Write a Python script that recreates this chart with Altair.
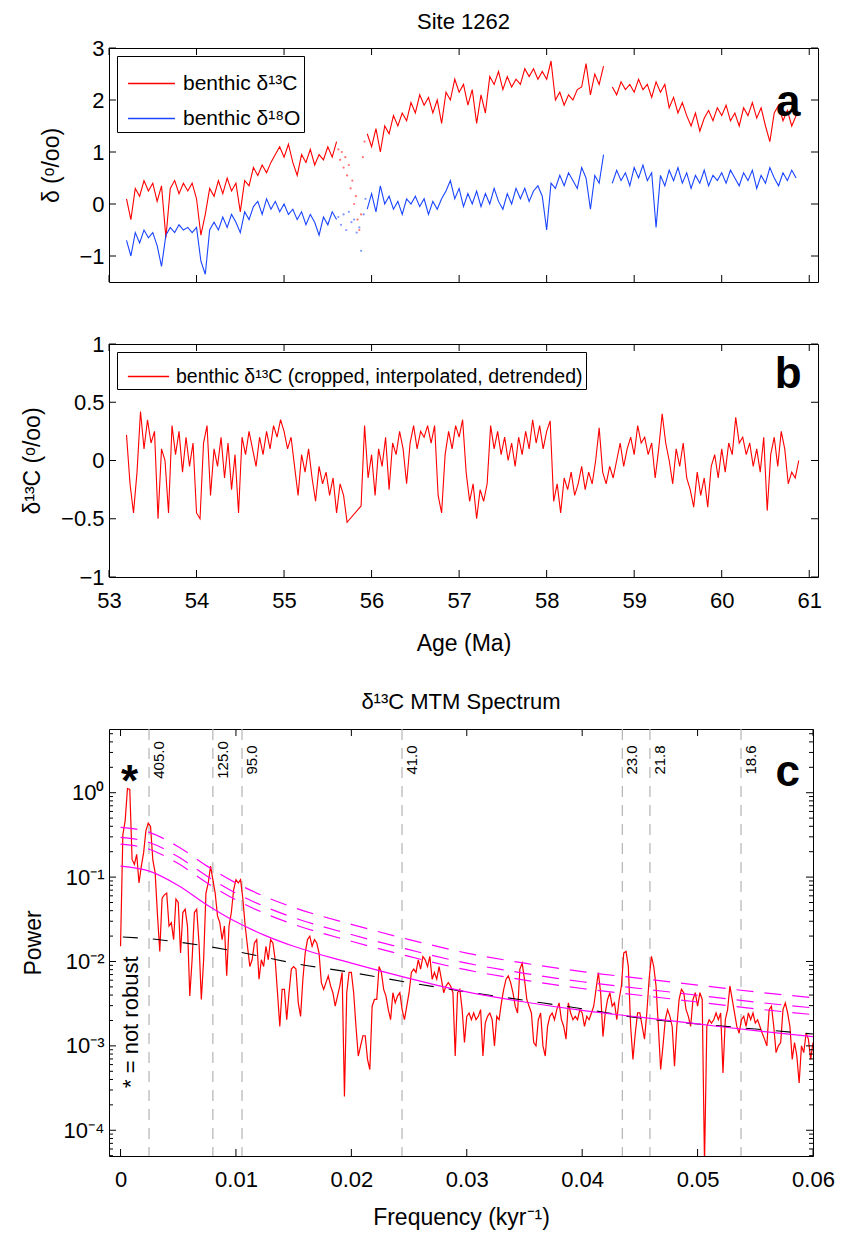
import altair as alt
import numpy as np
import pandas as pd

FONT = "Liberation Sans"
RED = "#ff0000"
BLUE = "#1a45ff"
MAG = "#ff00ff"

# ---------------- panel a : raw benthic isotopes ----------------
A_START, A_STEP = 53.20, 0.05
d13c_a = [
    0.1, -0.3, 0.3, 0.15, 0.45, 0.25, 0.4, 0.05, 0.35, -0.65,
    0.3, 0.45, 0.2, 0.4, 0.25, 0.4, 0.1, -0.6, -0.2, 0.3,
    0.15, 0.45, 0.2, 0.5, 0.25, 0.4, -0.15, 0.45, 0.35, 0.7,
    0.55, 0.75, 0.6, 0.8, 0.95, 1.1, 0.9, 1.15, 0.8, 0.55,
    0.95, 0.8, 1.05, 0.75, 0.95, 0.85, 1.1, 0.9, 1.2, None,
    None, None, None, None, None, 1.35, 1.1, 1.45, 1.0, 1.5,
    1.35, 1.7, 1.5, 1.75, 1.6, 1.95, 1.75, 2.1, 1.9, 2.05,
    1.75, 2.0, 1.55, 2.15, 2.0, 2.4, 2.15, 2.3, 1.9, 2.2,
    1.55, 2.1, 1.75, 2.45, 2.3, 2.55, 2.2, 2.45, 2.25, 2.4,
    2.3, 2.6, 2.45, 2.6, 2.4, 2.55, 2.4, 2.75, 2.0, 2.15,
    1.9, 2.1, 2.0, 2.2, 2.25, 2.7, 2.1, 2.5, 2.3, 2.65,
    None, 2.25, 2.1, 2.35, 2.2, 2.3, 2.15, 2.4, 2.2, 2.3,
    2.05, 2.35, 2.15, 2.3, 1.85, 2.05, 1.75, 1.95, 1.7, 1.5,
    1.75, 1.4, 1.65, 1.8, 1.6, 1.85, 1.7, 1.9, 1.6, 1.75,
    1.5, 1.85, 1.7, 1.95, 1.65, 1.85, 1.5, 1.2, 1.75, 1.9,
    1.6, 1.8, 1.5, 1.7,
]
d18o_a = [
    -0.7, -1.0, -0.55, -0.75, -0.5, -0.65, -0.55, -0.8, -1.2, -0.6,
    -0.45, -0.55, -0.4, -0.5, -0.45, -0.55, -0.45, -1.1, -1.35, -0.5,
    -0.35, -0.5, -0.25, -0.45, -0.2, -0.35, -0.55, -0.15, -0.3, -0.05,
    0.05, -0.2, 0.1, -0.1, 0.05, -0.15, 0.0, -0.2, -0.1, -0.3,
    -0.15, -0.4, -0.2, -0.35, -0.6, -0.25, -0.4, -0.15, -0.3, None,
    None, None, None, None, None, -0.1, 0.2, -0.15, 0.35, 0.0,
    0.15, -0.1, 0.05, -0.2, 0.1, 0.0, 0.15, -0.05, 0.1, -0.2,
    0.05, -0.1, 0.1, 0.25, 0.45, 0.1, 0.3, -0.05, 0.2, 0.0,
    0.25, -0.05, 0.2, 0.0, 0.3, 0.05, -0.1, 0.2, 0.0, 0.3,
    0.1, 0.3, 0.05, 0.25, 0.35, 0.15, -0.5, 0.4, 0.3, 0.55,
    0.35, 0.6, 0.45, 0.3, 0.7, 0.5, -0.1, 0.55, 0.4, 0.95,
    None, 0.4, 0.65, 0.45, 0.6, 0.35, 0.7, 0.5, 0.75, 0.45,
    0.6, -0.45, 0.55, 0.35, 0.65, 0.45, 0.7, 0.4, 0.6, 0.3,
    0.55, 0.4, 0.65, 0.35, 0.55, 0.45, 0.6, 0.4, 0.65, 0.5,
    0.35, 0.6, 0.45, 0.65, 0.3, 0.55, 0.4, 0.7, 0.5, 0.35,
    0.6, 0.45, 0.65, 0.5,
]
# sparse samples across the PETM interval
petm_c_age = [55.62, 55.64, 55.66, 55.68, 55.70, 55.72, 55.74, 55.76, 55.78,
              55.80, 55.82, 55.84, 55.86, 55.88, 55.90, 55.92]
petm_c_val = [1.05, 0.85, 1.0, 0.7, 0.9, 0.55, 0.75, 0.3, 0.45,
              0.0, 0.15, -0.3, -0.5, -0.2, 0.9, 1.2]
petm_o_age = [55.62, 55.65, 55.68, 55.71, 55.74, 55.77, 55.80, 55.83, 55.86,
              55.88, 55.91, 55.93]
petm_o_val = [-0.25, -0.4, -0.2, -0.5, -0.15, -0.35, -0.3, -0.55, -0.45,
              -0.9, -0.2, 0.1]

# ---------------- panel b : detrended d13C ----------------
B_START, B_STEP = 53.20, 0.04
d13c_b = [
    0.22, -0.2, -0.45, -0.1, 0.42, 0.1, 0.35, 0.15, 0.25, -0.5, 0.1, 0.0, -0.45,
    0.3, 0.05, 0.25, -0.1, 0.2, -0.05, 0.15, -0.45, -0.5, 0.15, 0.3, -0.3,
    0.1, -0.05, 0.2, -0.15, 0.15, -0.25, 0.05, -0.45, 0.2, 0.05, 0.25, 0.1, -0.05,
    0.2, 0.05, 0.25, 0.1, 0.3, 0.2, 0.35, 0.25, 0.1, 0.2, -0.05, -0.3,
    0.05, -0.1, 0.1, -0.15, -0.35, -0.05, -0.2, -0.1, -0.3, -0.15, -0.45, -0.2, -0.3,
    -0.53, None, None, None, -0.39, 0.3, -0.15, 0.05, -0.3, 0.1, -0.05, 0.2,
    -0.25, 0.15, 0.05, 0.25, 0.1, -0.2, 0.15, 0.3, 0.1, 0.25, 0.2, 0.3, 0.15,
    0.3, -0.3, -0.45, 0.05, 0.25, 0.1, 0.3, 0.2, 0.35, -0.1, -0.35, -0.2,
    -0.5, -0.25, -0.35, -0.2, 0.3, 0.1, 0.25, 0.05, 0.2, 0.0, 0.15, -0.05, 0.2,
    0.05, 0.25, 0.1, 0.35, 0.15, 0.3, 0.1, 0.25, 0.34, -0.35, -0.2, -0.45,
    -0.15, -0.25, -0.1, -0.3, -0.2, -0.05, -0.25, -0.1, -0.2, 0.0, 0.28, -0.1, -0.2,
    -0.05, -0.15, 0.0, 0.15, -0.05, 0.1, 0.2, 0.05, 0.3, 0.15, 0.2, 0.05,
    0.15, -0.15, 0.1, 0.4, 0.15, 0.0, -0.2, 0.1, -0.05, 0.15, -0.15, -0.25, -0.4,
    -0.1, -0.3, -0.15, -0.4, -0.05, 0.05, -0.15, 0.1, -0.1, 0.15, 0.05, 0.37,
    0.15, 0.2, 0.05, 0.15, -0.05, 0.1, -0.1, 0.2, -0.43, 0.05, 0.2, -0.05, 0.25,
    0.1, -0.2, -0.1, -0.15, 0.0,
]

# ---------------- panel c : MTM spectrum (log10 power) ----------------
C_STEP = 0.0002
log_power = [
    -1.82, -0.50, -0.33, 0.05, 0.04, -0.79, -0.85, -0.73, -1.07, -0.87,
    -0.71, -0.45, -0.36, -0.40, -0.80, -0.95, -1.45, -1.88, -1.25, -1.21,
    -1.19, -1.58, -1.54, -1.74, -1.26, -1.30, -1.90, -1.42, -1.38, -1.58,
    -2.41, -1.98, -1.42, -1.38, -1.78, -2.45, -1.98, -1.19, -1.07, -0.87,
    -1.03, -1.19, -1.46, -1.54, -1.74, -1.58, -2.17, -1.58, -1.42, -1.15,
    -1.03, -1.07, -1.03, -1.26, -1.58, -1.82, -2.06, -1.98, -1.78, -1.74,
    -2.21, -1.98, -2.06, -1.82, -1.98, -1.74, -1.78, -1.98, -2.37, -2.77,
    -2.33, -2.33, -2.69, -2.37, -2.09, -2.06, -2.09, -2.49, -2.65, -2.21,
    -1.90, -1.74, -1.70, -1.82, -1.74, -1.78, -1.90, -2.25, -2.33, -2.25,
    -2.17, -2.29, -2.37, -2.53, -2.41, -2.29, -2.13, -3.60, -2.37, -2.13,
    -2.13, -2.37, -2.77, -3.12, -3.00, -2.88, -2.88, -3.16, -3.28, -2.53,
    -2.45, -2.45, -2.06, -2.13, -2.33, -2.41, -2.57, -2.69, -2.37, -2.49,
    -2.41, -2.37, -2.57, -2.69, -2.53, -2.37, -2.13, -2.09, -2.13, -1.98,
    -2.09, -1.94, -1.98, -2.06, -1.94, -2.21, -2.13, -2.21, -2.06, -2.21,
    -2.37, -2.29, -2.25, -2.29, -2.37, -3.12, -2.37, -2.33, -2.57, -2.96,
    -2.65, -2.61, -2.69, -2.61, -2.69, -2.65, -2.57, -3.12, -2.73, -2.65,
    -2.61, -2.69, -3.00, -2.65, -2.69, -2.49, -2.33, -2.21, -2.17, -2.25,
    -2.37, -2.53, -2.61, -2.09, -2.02, -2.21, -2.45, -2.53, -2.61, -2.96,
    -3.00, -2.69, -2.61, -3.00, -3.12, -2.77, -2.65, -2.61, -2.69, -2.57,
    -2.49, -2.69, -2.77, -2.92, -2.49, -2.61, -2.69, -2.65, -2.69, -2.57,
    -2.61, -2.77, -2.65, -2.69, -2.61, -2.53, -2.33, -2.13, -2.37, -2.89,
    -2.61, -2.45, -2.37, -2.53, -2.49, -2.69, -2.45, -2.29, -1.90, -1.88,
    -2.06, -2.77, -3.16, -2.85, -2.61, -2.61, -2.77, -2.92, -2.61, -2.21,
    -1.94, -2.06, -2.29, -2.77, -3.28, -3.00, -2.69, -2.57, -2.65, -2.77,
    -3.24, -2.77, -2.45, -2.33, -2.37, -2.57, -2.65, -2.77, -2.45, -2.37,
    -2.53, -2.37, -2.45, -4.40, -2.77, -2.69, -2.73, -2.69, -2.61, -2.69,
    -2.61, -3.32, -2.69, -2.57, -2.29, -2.45, -2.61, -2.77, -2.85, -2.69,
    -2.65, -2.77, -2.61, -2.69, -2.61, -2.73, -2.69, -2.77, -2.85, -2.92,
    -3.00, -2.57, -2.53, -2.77, -3.08, -3.00, -2.96, -2.57, -2.49, -2.61,
    -2.77, -3.16, -2.96, -3.12, -3.44, -3.00, -3.08, -2.85, -2.92, -3.16,
    -2.96, -3.16,
]
bg_freq = [0.0, 0.0025, 0.005, 0.0075, 0.01, 0.0125, 0.015, 0.02, 0.025,
           0.03, 0.035, 0.04, 0.045, 0.05, 0.055, 0.06]
bg_log = [-0.87, -0.93, -1.10, -1.33, -1.53, -1.69, -1.82, -2.02, -2.20,
          -2.36, -2.48, -2.58, -2.66, -2.74, -2.82, -2.89]
ci1_log = [-0.41, -0.47, -0.64, -0.87, -1.07, -1.23, -1.36, -1.56, -1.74,
           -1.90, -2.02, -2.12, -2.20, -2.28, -2.36, -2.43]
ci2_log = [-0.53, -0.59, -0.76, -0.99, -1.19, -1.35, -1.48, -1.68, -1.86,
           -2.02, -2.14, -2.24, -2.32, -2.40, -2.48, -2.55]
ci3_log = [-0.61, -0.67, -0.84, -1.07, -1.27, -1.43, -1.56, -1.76, -1.94,
           -2.10, -2.22, -2.32, -2.40, -2.48, -2.56, -2.63]
blk_freq = [0.0002, 0.0025, 0.005, 0.0075, 0.01, 0.0125, 0.015, 0.02, 0.025,
            0.03, 0.035, 0.04, 0.045, 0.05, 0.055, 0.06]
blk_log = [-1.71, -1.73, -1.77, -1.82, -1.88, -1.95, -2.02, -2.13, -2.25,
           -2.36, -2.46, -2.56, -2.67, -2.74, -2.80, -2.86]
periods = [405.0, 125.0, 95.0, 41.0, 23.0, 21.8, 18.6]

# ---------------- helpers ----------------
def series_df(start, step, vals, name):
    v = np.array([np.nan if x is None else x for x in vals], dtype=float)
    age = np.round(start + step * np.arange(len(v)), 4)
    seg = np.cumsum(np.isnan(v))
    df = pd.DataFrame({"age": age, "val": v, "seg": seg, "series": name})
    return df.dropna()


def inner_ticks(xvals, yvals, xs, ys, xax, yax, w, h, L=7, yminor=None, Lm=4):
    dx = pd.DataFrame({"t": xvals})
    dy = pd.DataFrame({"t": yvals})
    base = dict(color="black", strokeWidth=1)
    X = alt.X("t:Q", scale=xs, axis=xax)
    Y = alt.Y("t:Q", scale=ys, axis=yax)
    layers = [
        alt.Chart(dx).mark_rule(**base).encode(x=X, y=alt.value(h), y2=alt.value(h - L)),
        alt.Chart(dx).mark_rule(**base).encode(x=X, y=alt.value(0), y2=alt.value(L)),
        alt.Chart(dy).mark_rule(**base).encode(y=Y, x=alt.value(0), x2=alt.value(L)),
        alt.Chart(dy).mark_rule(**base).encode(y=Y, x=alt.value(w), x2=alt.value(w - L)),
    ]
    if yminor is not None:
        dm = pd.DataFrame({"t": yminor})
        layers += [
            alt.Chart(dm).mark_rule(**base).encode(y=Y, x=alt.value(0), x2=alt.value(Lm)),
            alt.Chart(dm).mark_rule(**base).encode(y=Y, x=alt.value(w), x2=alt.value(w - Lm)),
        ]
    return layers


LAB = 22
TIT = 23


def yaxis(values, title, tx, h, expr=None):
    kw = dict(values=values, ticks=False, domain=False, grid=False, labelFontSize=LAB,
              labelPadding=5, labelOverlap=False, title=title, titleFontSize=TIT,
              titleFontWeight="normal", titleX=tx, titleY=h / 2, titleAngle=270,
              titleAlign="center", titleBaseline="middle")
    if expr:
        kw["labelExpr"] = expr
    else:
        kw["format"] = "~g"
    return alt.Axis(**kw)


def xaxis(values, title, lpad, tpad):
    return alt.Axis(values=values, ticks=False, domain=False, grid=False, format="~g",
                    labelFontSize=LAB, labelPadding=lpad, labelFlush=False,
                    labelOverlap=False, title=title, titleFontSize=TIT,
                    titleFontWeight="normal", titlePadding=tpad)


# ---------------- panel a ----------------
W_A, H_A = 709, 234
xs_a = alt.Scale(domain=[53, 61.1], nice=False, zero=False)
ys_a = alt.Scale(domain=[-1.5, 3], nice=False, zero=False)
xax_a = alt.Axis(labels=False, ticks=False, domain=False, grid=False, title=None,
                 minExtent=15)
yax_a = yaxis([-1, 0, 1, 2, 3], "δ (ᵒ/oo)", -58, H_A)
lab_c = "benthic δ¹³C"
lab_o = "benthic δ¹⁸O"
df_a = pd.concat([series_df(A_START, A_STEP, d13c_a, lab_c),
                  series_df(A_START, A_STEP, d18o_a, lab_o)])

lines_a = alt.Chart(df_a).mark_line(strokeWidth=1.1, clip=True).encode(
    x=alt.X("age:Q", scale=xs_a, axis=xax_a),
    y=alt.Y("val:Q", scale=ys_a, axis=yax_a),
    color=alt.Color("series:N",
                    scale=alt.Scale(domain=[lab_c, lab_o], range=[RED, BLUE]),
                    legend=alt.Legend(title=None, orient="top-left", offset=8, padding=3,
                                      symbolOffset=7, strokeColor="black",
                                      fillColor="white", symbolType="stroke",
                                      symbolSize=2200, symbolStrokeWidth=1.5,
                                      labelFontSize=21, labelOffset=7, rowPadding=0,
                                      labelLimit=400)),
    detail="seg:N",
)
df_pc = pd.DataFrame({"age": petm_c_age, "val": petm_c_val})
df_po = pd.DataFrame({"age": petm_o_age, "val": petm_o_val})
dots_c = alt.Chart(df_pc).mark_circle(size=5, opacity=0.55, color=RED).encode(
    x=alt.X("age:Q", scale=xs_a, axis=xax_a), y=alt.Y("val:Q", scale=ys_a, axis=yax_a))
dots_o = alt.Chart(df_po).mark_circle(size=5, opacity=0.55, color=BLUE).encode(
    x=alt.X("age:Q", scale=xs_a, axis=xax_a), y=alt.Y("val:Q", scale=ys_a, axis=yax_a))
letter_a = alt.Chart(pd.DataFrame({"age": [60.76], "val": [1.69], "t": ["a"]})).mark_text(
    fontSize=44, fontWeight="bold", align="center", baseline="alphabetic").encode(
    x=alt.X("age:Q", scale=xs_a, axis=xax_a), y=alt.Y("val:Q", scale=ys_a, axis=yax_a),
    text="t:N")

panel_a = alt.layer(
    lines_a, dots_c, dots_o, letter_a,
    *inner_ticks(list(range(53, 62)), [-1, 0, 1, 2, 3], xs_a, ys_a, xax_a, yax_a, W_A, H_A),
).properties(width=W_A, height=H_A,
             title=alt.TitleParams("Site 1262", fontSize=22, fontWeight="normal", offset=3))

# ---------------- panel b ----------------
W_B, H_B = 709, 233
xs_b = alt.Scale(domain=[53, 61.1], nice=False, zero=False)
ys_b = alt.Scale(domain=[-1, 1], nice=False, zero=False)
xax_b = xaxis(list(range(53, 62)), "Age (Ma)", 13, 21)
yax_b = yaxis([-1, -0.5, 0, 0.5, 1], "δ¹³C (ᵒ/oo)", -77, H_B)
lab_b = "benthic δ¹³C (cropped, interpolated, detrended)"
df_b = series_df(B_START, B_STEP, d13c_b, lab_b)
line_b = alt.Chart(df_b).mark_line(strokeWidth=1.1, clip=True).encode(
    x=alt.X("age:Q", scale=xs_b, axis=xax_b),
    y=alt.Y("val:Q", scale=ys_b, axis=yax_b),
    color=alt.Color("series:N", scale=alt.Scale(domain=[lab_b], range=[RED]),
                    legend=alt.Legend(title=None, orient="top-left", offset=8, padding=3,
                                      symbolOffset=7, strokeColor="black",
                                      fillColor="white", symbolType="stroke",
                                      symbolSize=1700, symbolStrokeWidth=1.5,
                                      labelFontSize=19.5, labelOffset=6, labelLimit=600)),
)
letter_b = alt.Chart(pd.DataFrame({"age": [60.76], "val": [0.62], "t": ["b"]})).mark_text(
    fontSize=44, fontWeight="bold", align="center", baseline="alphabetic").encode(
    x=alt.X("age:Q", scale=xs_b, axis=xax_b), y=alt.Y("val:Q", scale=ys_b, axis=yax_b),
    text="t:N")
panel_b = alt.layer(
    line_b, letter_b,
    *inner_ticks(list(range(53, 62)), [-1, -0.5, 0, 0.5, 1], xs_b, ys_b, xax_b, yax_b,
                 W_B, H_B),
).properties(width=W_B, height=H_B)

# ---------------- panel c ----------------
W_C, H_C = 704, 427
xs_c = alt.Scale(domain=[-0.001, 0.06], nice=False, zero=False)
ys_c = alt.Scale(type="log", domain=[10 ** -4.305, 10 ** 0.755], nice=False)
exp_expr = ("'10' + (round(log(datum.value)/LN10) == 0 ? '⁰' : "
            "round(log(datum.value)/LN10) == -1 ? '⁻¹' : "
            "round(log(datum.value)/LN10) == -2 ? '⁻²' : "
            "round(log(datum.value)/LN10) == -3 ? '⁻³' : '⁻⁴')")
xax_c = xaxis([0, 0.01, 0.02, 0.03, 0.04, 0.05, 0.06], "Frequency (kyr⁻¹)", 13, 16)
yax_c = yaxis([1e-4, 1e-3, 1e-2, 1e-1, 1], "Power", -76, H_C, exp_expr)

lp = np.array(log_power)
df_spec = pd.DataFrame({"f": np.round(C_STEP * np.arange(len(lp)), 5), "p": 10.0 ** lp})
df_bg = pd.DataFrame({"f": bg_freq, "p": 10.0 ** np.array(bg_log)})
df_ci = pd.concat([
    pd.DataFrame({"f": bg_freq, "p": 10.0 ** np.array(v), "lvl": k})
    for k, v in (("c1", ci1_log), ("c2", ci2_log), ("c3", ci3_log))
])
df_blk = pd.DataFrame({"f": blk_freq, "p": 10.0 ** np.array(blk_log)})
df_per = pd.DataFrame({"f": [1.0 / p for p in periods],
                       "lab": [f"{p:.1f}" for p in periods],
                       "p": [2.44] * len(periods)})

Xc = alt.X("f:Q", scale=xs_c, axis=xax_c)
Yc = alt.Y("p:Q", scale=ys_c, axis=yax_c)

vlines = alt.Chart(df_per).mark_rule(color="#b4b4b4", strokeWidth=1.2,
                                     strokeDash=[11, 8]).encode(x=Xc)
spec = alt.Chart(df_spec).mark_line(color=RED, strokeWidth=1.2, clip=True).encode(x=Xc, y=Yc)
blk = alt.Chart(df_blk).mark_line(color="black", strokeWidth=1.1, strokeDash=[15, 15],
                                  interpolate="monotone", clip=True).encode(x=Xc, y=Yc)
ci = alt.Chart(df_ci).mark_line(color=MAG, strokeWidth=1.2, strokeDash=[17, 11],
                                interpolate="monotone", clip=True).encode(
    x=Xc, y=Yc, detail="lvl:N")
bg = alt.Chart(df_bg).mark_line(color=MAG, strokeWidth=1.2, interpolate="monotone",
                                clip=True).encode(x=Xc, y=Yc)
per_text = alt.Chart(df_per).mark_text(angle=270, align="center", baseline="top", dy=3,
                                       fontSize=15).encode(x=Xc, y=Yc, text="lab:N")
ann = pd.DataFrame({"f": [0.0578, 0.00078], "p": [1.2, 0.91], "t": ["c", "*"]})
letters_c = alt.Chart(ann).mark_text(fontSize=44, fontWeight="bold", align="center",
                                     baseline="alphabetic").encode(x=Xc, y=Yc, text="t:N")
note = alt.Chart(pd.DataFrame({"f": [0.00087], "p": [10 ** -2.72],
                               "t": ["* = not robust"]})).mark_text(
    angle=270, align="center", baseline="middle", fontSize=22).encode(x=Xc, y=Yc, text="t:N")

yminor = [m * 10.0 ** k for k in range(-5, 1) for m in range(2, 10)
          if 10 ** -4.305 < m * 10.0 ** k < 10 ** 0.755]
panel_c = alt.layer(
    vlines, spec, blk, ci, bg, per_text, letters_c, note,
    *inner_ticks([0, 0.01, 0.02, 0.03, 0.04, 0.05, 0.06], [1e-4, 1e-3, 1e-2, 1e-1, 1],
                 xs_c, ys_c, xax_c, yax_c, W_C, H_C, yminor=yminor),
).properties(width=W_C, height=H_C,
             title=alt.TitleParams("δ¹³C MTM Spectrum", fontSize=22, fontWeight="normal",
                                   offset=14))

chart = alt.vconcat(panel_a, panel_b, panel_c, spacing=34).resolve_scale(
    color="independent"
).properties(
    padding={"left": 20, "top": 10, "right": 10, "bottom": 2}
).configure_view(stroke="black", strokeWidth=1).configure_axis(
    labelFont=FONT, titleFont=FONT, labelColor="black", titleColor="black"
).configure_legend(labelFont=FONT, labelColor="black").configure_title(
    font=FONT, color="black"
).configure_text(font=FONT, color="black")

chart.save("out.html", embed_options={"renderer": "svg", "actions": False})
